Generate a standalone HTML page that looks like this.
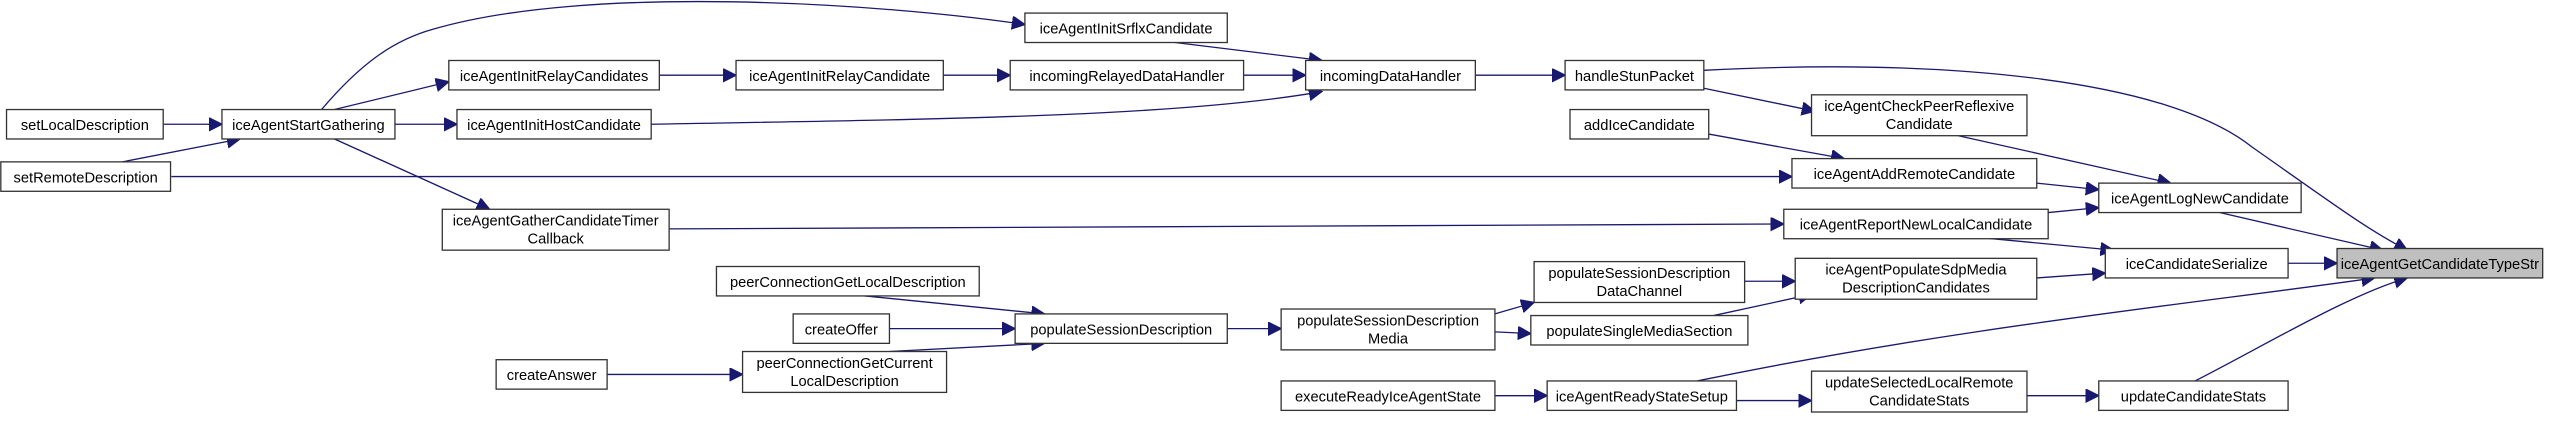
<!DOCTYPE html>
<html><head><meta charset="utf-8"><style>
html,body{margin:0;padding:0;background:#fff;}
svg{display:block}
text{font-family:"Liberation Sans","DejaVu Sans",sans-serif;font-size:9px;fill:#000;text-anchor:middle}
rect{fill:#fff;stroke:#333;stroke-width:0.8}
path{fill:none;stroke:#191970;stroke-width:0.8}
</style></head><body>
<svg width="2559" height="430" viewBox="0 0 1568 263" preserveAspectRatio="none">
<defs><marker id="a" markerWidth="9" markerHeight="9" refX="8" refY="4" orient="auto" markerUnits="userSpaceOnUse"><path d="M0,0 L8,4 L0,8 Z" style="fill:#191970;stroke:#191970"/></marker></defs>
<g>
<path marker-end="url(#a)" d="M100,76 L136,76"/>
<path marker-end="url(#a)" d="M75,99 L147,85"/>
<path marker-end="url(#a)" d="M105,108 L1098,108"/>
<path marker-end="url(#a)" d="M205,67 L275,50"/>
<path marker-end="url(#a)" d="M242,76 L280,76"/>
<path marker-end="url(#a)" d="M205,85 L300,128"/>
<path marker-end="url(#a)" d="M197,67 C220,40 240,25 265,18 C360,-10 540,2 628,15"/>
<path marker-end="url(#a)" d="M404,46 L451,46"/>
<path marker-end="url(#a)" d="M578,46 L619,46"/>
<path marker-end="url(#a)" d="M762,46 L800,46"/>
<path marker-end="url(#a)" d="M720,26 L810,37"/>
<path marker-end="url(#a)" d="M399,76 C560,73 720,72 810,56"/>
<path marker-end="url(#a)" d="M904,46 L959,46"/>
<path marker-end="url(#a)" d="M1044,54 L1112,68"/>
<path marker-end="url(#a)" d="M1044,43 C1200,35 1330,50 1380,90 C1430,125 1450,140 1475,153"/>
<path marker-end="url(#a)" d="M1047,82 L1130,97"/>
<path marker-end="url(#a)" d="M1200,83 L1330,112"/>
<path marker-end="url(#a)" d="M1248,112 L1286,116"/>
<path marker-end="url(#a)" d="M1255,130 L1286,127"/>
<path marker-end="url(#a)" d="M1210,145 L1295,153"/>
<path marker-end="url(#a)" d="M410,140 C700,137 950,137 1093,137"/>
<path marker-end="url(#a)" d="M1360,130 L1460,153"/>
<path marker-end="url(#a)" d="M1402,161 L1432,161"/>
<path marker-end="url(#a)" d="M1248,170 L1290,167"/>
<path marker-end="url(#a)" d="M1069,172 L1100,172"/>
<path marker-end="url(#a)" d="M1050,193 L1110,180"/>
<path marker-end="url(#a)" d="M916,192 L940,185"/>
<path marker-end="url(#a)" d="M916,203 L938,204"/>
<path marker-end="url(#a)" d="M752,201 L785,201"/>
<path marker-end="url(#a)" d="M520,180 L640,192"/>
<path marker-end="url(#a)" d="M545,201 L622,201"/>
<path marker-end="url(#a)" d="M545,215 L640,210"/>
<path marker-end="url(#a)" d="M372,229 L455,229"/>
<path marker-end="url(#a)" d="M916,242 L948,242"/>
<path marker-end="url(#a)" d="M1040,233 C1200,200 1350,185 1455,170"/>
<path marker-end="url(#a)" d="M1064,245 L1110,245"/>
<path marker-end="url(#a)" d="M1242,242 L1286,242"/>
<path marker-end="url(#a)" d="M1345,233 C1390,210 1440,180 1475,170"/>
</g>
<g>
<rect x="4" y="67" width="96" height="18"/><text x="52" y="79.5">setLocalDescription</text>
<rect x="0.5" y="99" width="104" height="18"/><text x="52.5" y="111.5">setRemoteDescription</text>
<rect x="136" y="67" width="106" height="18"/><text x="189" y="79.5">iceAgentStartGathering</text>
<rect x="275" y="37" width="129" height="18"/><text x="339.5" y="49.5">iceAgentInitRelayCandidates</text>
<rect x="280" y="67" width="119" height="18"/><text x="339.5" y="79.5">iceAgentInitHostCandidate</text>
<rect x="271" y="128" width="139" height="25"/><text x="340.5" y="138">iceAgentGatherCandidateTimer</text><text x="340.5" y="149">Callback</text>
<rect x="628" y="8" width="124" height="18"/><text x="690" y="20.5">iceAgentInitSrflxCandidate</text>
<rect x="451" y="37" width="127" height="18"/><text x="514.5" y="49.5">iceAgentInitRelayCandidate</text>
<rect x="619" y="37" width="143" height="18"/><text x="690.5" y="49.5">incomingRelayedDataHandler</text>
<rect x="800" y="37" width="104" height="18"/><text x="852" y="49.5">incomingDataHandler</text>
<rect x="959" y="37" width="85" height="18"/><text x="1001.5" y="49.5">handleStunPacket</text>
<rect x="962" y="67" width="85" height="18"/><text x="1004.5" y="79.5">addIceCandidate</text>
<rect x="1110" y="58" width="132" height="25"/><text x="1176" y="68">iceAgentCheckPeerReflexive</text><text x="1176" y="79">Candidate</text>
<rect x="1098" y="97" width="150" height="18"/><text x="1173" y="109.5">iceAgentAddRemoteCandidate</text>
<rect x="1093" y="128" width="162" height="18"/><text x="1174" y="140.5">iceAgentReportNewLocalCandidate</text>
<rect x="1286" y="112" width="124" height="18"/><text x="1348" y="124.5">iceAgentLogNewCandidate</text>
<rect x="1290" y="152" width="112" height="18"/><text x="1346" y="164.5">iceCandidateSerialize</text>
<rect x="1432" y="152" width="126" height="18" style="fill:#bfbfbf"/><text x="1495" y="164.5">iceAgentGetCandidateTypeStr</text>
<rect x="1100" y="158" width="148" height="25"/><text x="1174" y="168">iceAgentPopulateSdpMedia</text><text x="1174" y="179">DescriptionCandidates</text>
<rect x="940" y="160" width="129" height="25"/><text x="1004.5" y="170">populateSessionDescription</text><text x="1004.5" y="181">DataChannel</text>
<rect x="938" y="193" width="133" height="18"/><text x="1004.5" y="205.5">populateSingleMediaSection</text>
<rect x="785" y="189" width="131" height="25"/><text x="850.5" y="199">populateSessionDescription</text><text x="850.5" y="210">Media</text>
<rect x="622" y="192" width="130" height="18"/><text x="687" y="204.5">populateSessionDescription</text>
<rect x="439" y="163" width="161" height="18"/><text x="519.5" y="175.5">peerConnectionGetLocalDescription</text>
<rect x="486" y="192" width="59" height="18"/><text x="515.5" y="204.5">createOffer</text>
<rect x="304" y="220" width="68" height="18"/><text x="338" y="232.5">createAnswer</text>
<rect x="455" y="215" width="125" height="25"/><text x="517.5" y="225">peerConnectionGetCurrent</text><text x="517.5" y="236">LocalDescription</text>
<rect x="785" y="233" width="131" height="18"/><text x="850.5" y="245.5">executeReadyIceAgentState</text>
<rect x="948" y="233" width="116" height="18"/><text x="1006" y="245.5">iceAgentReadyStateSetup</text>
<rect x="1110" y="227" width="132" height="25"/><text x="1176" y="237">updateSelectedLocalRemote</text><text x="1176" y="248">CandidateStats</text>
<rect x="1286" y="233" width="116" height="18"/><text x="1344" y="245.5">updateCandidateStats</text>
</g>
</svg>
</body></html>
